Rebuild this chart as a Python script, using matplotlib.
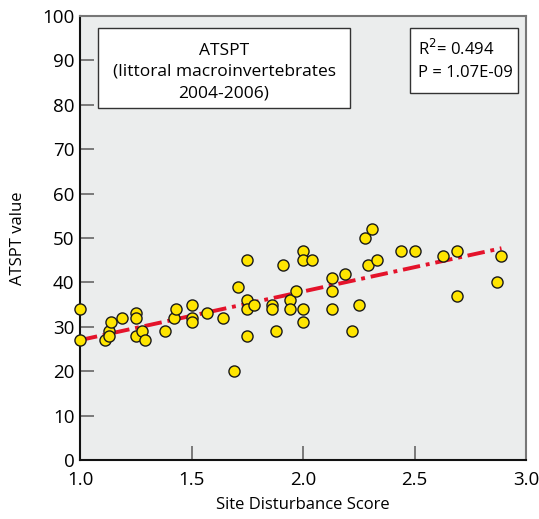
import numpy as np
import matplotlib
matplotlib.use("Agg")
import matplotlib.pyplot as plt
from matplotlib.patches import Rectangle

plt.rcParams['font.family'] = ['Open Sans', 'DejaVu Sans']

# Site disturbance score vs ATSPT value
disturbance = [
    1.00, 1.00, 1.11, 1.13, 1.13, 1.14, 1.19, 1.25, 1.25, 1.25,
    1.28, 1.29, 1.38, 1.42, 1.43, 1.50, 1.50, 1.50, 1.57, 1.64,
    1.69, 1.71, 1.75, 1.75, 1.75, 1.75, 1.78, 1.86, 1.86, 1.88,
    1.91, 1.94, 1.94, 1.97, 2.00, 2.00, 2.04, 2.00, 2.00, 2.13,
    2.13, 2.13, 2.19, 2.22, 2.25, 2.28, 2.31, 2.29, 2.33, 2.44,
    2.50, 2.63, 2.69, 2.69, 2.87, 2.89,
]
atspt = [
    34, 27, 27, 29, 28, 31, 32, 33, 32, 28,
    29, 27, 29, 32, 34, 35, 32, 31, 33, 32,
    20, 39, 45, 36, 34, 28, 35, 35, 34, 29,
    44, 36, 34, 38, 47, 45, 45, 34, 31, 41,
    38, 34, 42, 29, 35, 50, 52, 44, 45, 47,
    47, 46, 47, 37, 40, 46,
]

# Regression line
fit_x = [1.0, 2.89]
fit_intercept = 16.05
fit_slope = 10.95

r2_text = "R$^2$= 0.494"
p_text = "P = 1.07E-09"
title_text = "ATSPT\n(littoral macroinvertebrates\n2004-2006)"

x_ticks = [1.0, 1.5, 2.0, 2.5, 3.0]
y_ticks = list(range(0, 101, 10))

fig = plt.figure(figsize=(5.39, 5.19), dpi=100)
ax = fig.add_axes([80 / 539, 1 - 460 / 519, 446 / 539, 444 / 519])
ax.set_facecolor('#ebeded')

fx = np.array(fit_x)
ax.plot(fx, fit_intercept + fit_slope * fx, color='#e4132b', lw=2.8,
        linestyle=(0, (4.5, 1.5, 1, 1.5)), zorder=2, solid_capstyle='butt')
ax.plot(disturbance, atspt, 'o', ms=8, mfc='#ffe500', mec='#1a1a1a', mew=1.0,
        zorder=3, clip_on=False)

ax.set_xlim(1.0, 3.0)
ax.set_ylim(0, 100)
ax.set_xticks(x_ticks)
ax.set_xticklabels([f"{v:.1f}" for v in x_ticks])
ax.set_yticks(y_ticks)
ax.tick_params(direction='in', length=10, width=1.2, color='#666666',
               labelsize=13.5, pad=4)
ax.tick_params(axis='x', pad=8)

for side in ['left', 'bottom']:
    ax.spines[side].set_color('#111111')
    ax.spines[side].set_linewidth(1.5)
for side in ['top', 'right']:
    ax.spines[side].set_color('#777777')
    ax.spines[side].set_linewidth(1.5)

ax.set_xlabel("Site Disturbance Score", fontsize=12, labelpad=6)
ax.set_ylabel("ATSPT value", fontsize=12, labelpad=12)

# Caption box
ax.add_patch(Rectangle((0.040, 0.793), 0.565, 0.180, transform=ax.transAxes,
                       fc='white', ec='#333333', lw=1, zorder=4))
ax.text(0.323, 0.874, title_text, transform=ax.transAxes, ha='center',
        va='center', fontsize=12.5, linespacing=1.45, zorder=5)

# Statistics box
ax.add_patch(Rectangle((0.740, 0.827), 0.242, 0.146, transform=ax.transAxes,
                       fc='white', ec='#333333', lw=1, zorder=4))
ax.text(0.757, 0.901, r2_text + "\n" + p_text, transform=ax.transAxes,
        ha='left', va='center', fontsize=12, linespacing=1.45, zorder=5)

fig.savefig("out.png", dpi=100)
